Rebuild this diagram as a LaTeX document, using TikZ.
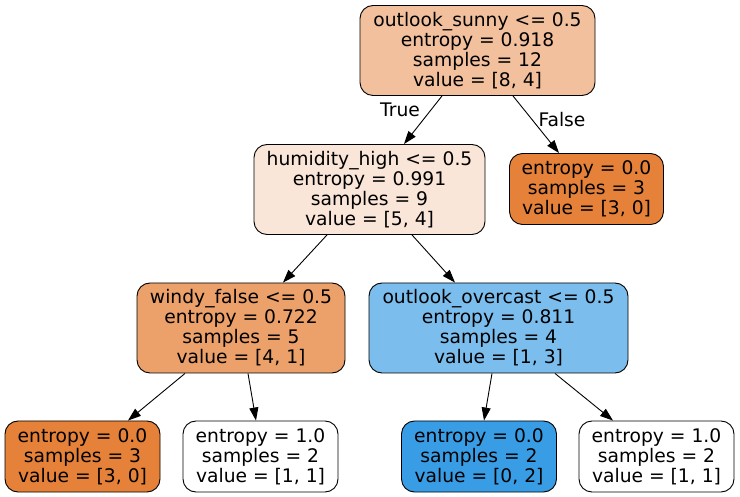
\documentclass[tikz,border=0pt]{standalone}
\usepackage{fontspec}
\setmainfont{DejaVu Sans}
\usetikzlibrary{arrows.meta}
\definecolor{cRoot}{HTML}{F2C09C}
\definecolor{cHum}{HTML}{FAE6D8}
\definecolor{cOrange}{HTML}{E58139}
\definecolor{cWindy}{HTML}{ECA06A}
\definecolor{cOver}{HTML}{7BBEEE}
\definecolor{cBlue}{HTML}{399DE5}
\tikzset{
  tree/.style={draw=black, line width=0.9pt, rounded corners=13pt, align=center,
    inner sep=0pt, font=\fontsize{18.7}{20}\selectfont},
  inner4/.style={tree, minimum height=90pt},
  leaf/.style={tree, minimum width=155pt, minimum height=71pt},
  edge/.style={draw=black, line width=0.9pt, -{Triangle[length=13pt,width=9pt]}},
  elabel/.style={font=\fontsize{18.7}{20}\selectfont}
}
\begin{document}
\begin{tikzpicture}[x=1pt,y=-1pt]
\useasboundingbox (0,0) rectangle (740,497);
\node[inner4, fill=cRoot, minimum width=235pt] (root) at (477.5,50.5)
  {outlook\_sunny <= 0.5\\entropy = 0.918\\samples = 12\\value = [8, 4]};
\node[inner4, fill=cHum, minimum width=231pt] (hum) at (369.5,189.5)
  {humidity\_high <= 0.5\\entropy = 0.991\\samples = 9\\value = [5, 4]};
\node[leaf, fill=cOrange, minimum width=154pt] (r1) at (586.5,189)
  {entropy = 0.0\\samples = 3\\value = [3, 0]};
\node[inner4, fill=cWindy, minimum width=208pt] (windy) at (241,328)
  {windy\_false <= 0.5\\entropy = 0.722\\samples = 5\\value = [4, 1]};
\node[inner4, fill=cOver, minimum width=259pt] (over) at (498.5,328)
  {outlook\_overcast <= 0.5\\entropy = 0.811\\samples = 4\\value = [1, 3]};
\node[leaf, fill=cOrange] (l1) at (82.5,456.5)
  {entropy = 0.0\\samples = 3\\value = [3, 0]};
\node[leaf, fill=white] (l2) at (260.5,456.5)
  {entropy = 1.0\\samples = 2\\value = [1, 1]};
\node[leaf, fill=cBlue] (l3) at (479,456.5)
  {entropy = 0.0\\samples = 2\\value = [0, 2]};
\node[leaf, fill=white] (l4) at (656.5,456.5)
  {entropy = 1.0\\samples = 2\\value = [1, 1]};

\draw[edge] ([xshift=-35.5pt]root.south) -- ([xshift=34.5pt]hum.north);
\draw[edge] ([xshift=35.5pt]root.south) -- ([xshift=-27.5pt]r1.north);
\draw[edge] ([xshift=-42.5pt]hum.south) -- ([xshift=42pt]windy.north);
\draw[edge] ([xshift=42.5pt]hum.south) -- ([xshift=-43.5pt]over.north);
\draw[edge] ([xshift=-56pt]windy.south) -- ([xshift=45.5pt]l1.north);
\draw[edge] ([xshift=7pt]windy.south) -- ([xshift=-4.5pt]l2.north);
\draw[edge] ([xshift=-6.5pt]over.south) -- ([xshift=5pt]l3.north);
\draw[edge] ([xshift=56.5pt]over.south) -- ([xshift=-43.5pt]l4.north);

\node[elabel] (tlab) at (400,109.5) {True};
\node[elabel] (flab) at (562,119.5) {False};
\end{tikzpicture}
\end{document}
